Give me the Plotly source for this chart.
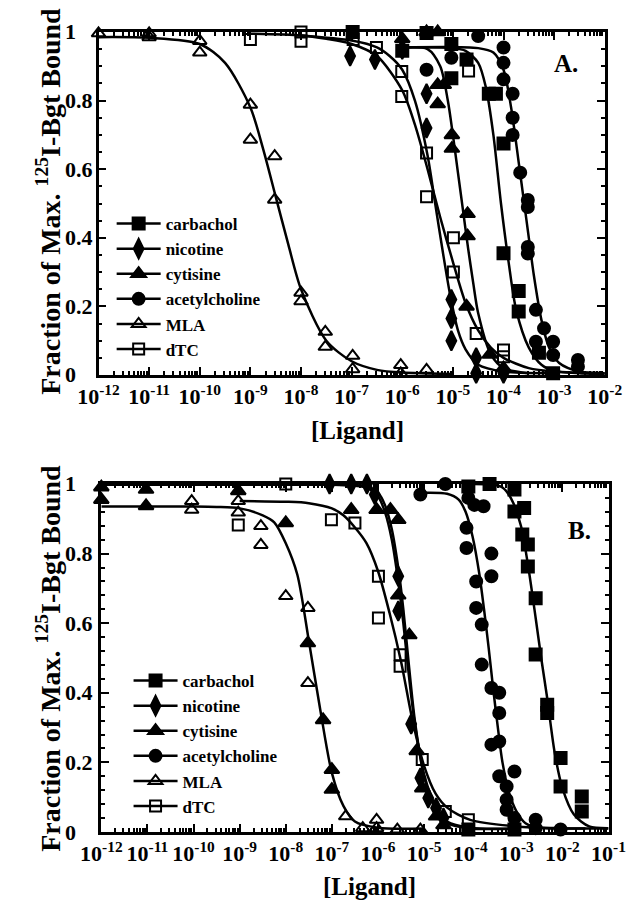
import plotly.graph_objects as go

FONT = "Liberation Serif"
NAMES = ["carbachol", "nicotine", "cytisine", "acetylcholine", "MLA", "dTC"]

# ---------------- Panel A : measured points (log10 [Ligand], fraction) ----------------
A_carb_x = [-6.98, -6.0, -5.52, -5.03, -5.03, -4.73, -4.29, -4.15, -4.0, -4.0, -3.7, -3.7, -3.3, -3.02, -2.0]
A_carb_y = [1.0, 0.945, 0.997, 0.965, 0.865, 0.92, 0.82, 0.82, 0.675, 0.355, 0.245, 0.185, 0.065, 0.005, 0.005]
A_nic_x = [-7.03, -6.54, -6.0, -5.52, -5.52, -5.03, -5.03, -5.03, -4.54, -4.54, -4.0]
A_nic_y = [0.93, 0.92, 0.95, 0.82, 0.72, 0.22, 0.165, 0.10, 0.05, 0.005, 0.005]
A_cyt_x = [-6.0, -5.52, -5.3, -5.3, -5.18, -5.3, -5.02, -5.02, -4.71, -4.71, -4.73, -4.27, -4.0]
A_cyt_y = [0.98, 1.0, 1.0, 0.846, 0.846, 0.79, 0.70, 0.66, 0.47, 0.405, 0.20, 0.06, 0.02]
A_ach_x = [-6.03, -5.52, -5.03, -4.5, -4.0, -4.0, -4.0, -3.82, -3.82, -3.82, -3.67, -3.52, -3.52, -3.52, -3.52,
           -3.36, -3.2, -3.36, -3.02, -3.02, -2.53, -2.53, -2.0, -2.0]
A_ach_y = [1.02, 0.89, 0.925, 0.988, 0.955, 0.91, 0.862, 0.82, 0.75, 0.70, 0.59, 0.51, 0.49, 0.373, 0.354,
           0.19, 0.136, 0.097, 0.097, 0.058, 0.044, 0.024, 0.039, 0.019]
A_mla_x = [-12.0, -11.0, -11.0, -10.0, -10.0, -9.0, -9.0, -8.52, -8.52, -8.0, -8.0, -7.52, -7.52, -6.98, -6.98,
           -6.03, -6.03, -5.52]
A_mla_y = [0.996, 0.996, 0.985, 0.974, 0.94, 0.788, 0.686, 0.638, 0.511, 0.24, 0.215, 0.126, 0.082, 0.056, 0.017,
           0.029, 0.005, 0.015]
A_dtc_x = [-9.0, -8.0, -8.0, -6.97, -6.51, -6.01, -6.01, -5.52, -5.52, -4.99, -4.99, -4.69, -4.54, -4.0, -4.0, -2.0]
A_dtc_y = [0.978, 1.0, 0.973, 0.978, 0.955, 0.885, 0.812, 0.647, 0.52, 0.40, 0.30, 0.886, 0.121, 0.073, 0.053, 0.005]

# ---------------- Panel A : fitted curves ----------------
A_carb_cx = [-6.0, -5.0, -4.75, -4.5, -4.35, -4.2, -4.05, -3.9, -3.75, -3.5, -3.25, -3.0, -2.5, -2.0]
A_carb_cy = [0.955, 0.953, 0.945, 0.91, 0.84, 0.70, 0.50, 0.33, 0.19, 0.08, 0.03, 0.012, 0.005, 0.003]
A_nic_cx = [-8.0, -7.0, -6.5, -6.25, -6.0, -5.75, -5.5, -5.35, -5.2, -5.05, -4.9, -4.75, -4.5, -4.0, -3.0]
A_nic_cy = [0.99, 0.975, 0.955, 0.93, 0.89, 0.80, 0.64, 0.50, 0.36, 0.23, 0.13, 0.075, 0.03, 0.01, 0.005]
A_cyt_cx = [-6.0, -5.5, -5.25, -5.1, -5.0, -4.9, -4.8, -4.7, -4.6, -4.5, -4.25, -4.0, -3.5]
A_cyt_cy = [0.955, 0.95, 0.90, 0.80, 0.70, 0.59, 0.48, 0.37, 0.27, 0.18, 0.06, 0.02, 0.005]
A_ach_cx = [-6.0, -4.5, -4.2, -4.0, -3.85, -3.7, -3.6, -3.5, -3.4, -3.25, -3.1, -2.9, -2.5, -2.0]
A_ach_cy = [0.955, 0.953, 0.94, 0.89, 0.78, 0.62, 0.51, 0.40, 0.29, 0.16, 0.08, 0.035, 0.01, 0.005]
A_mla_cx = [-12.0, -11.0, -10.0, -9.5, -9.0, -8.75, -8.5, -8.25, -8.0, -7.5, -7.0, -6.5, -6.0, -5.0]
A_mla_cy = [0.985, 0.983, 0.965, 0.91, 0.78, 0.66, 0.52, 0.38, 0.25, 0.10, 0.04, 0.015, 0.007, 0.003]
A_dtc_cx = [-9.0, -8.0, -7.5, -7.0, -6.5, -6.0, -5.75, -5.5, -5.25, -5.0, -4.75, -4.5, -4.25, -4.0, -3.5, -3.0, -2.0]
A_dtc_cy = [0.995, 0.99, 0.98, 0.965, 0.93, 0.83, 0.73, 0.60, 0.46, 0.33, 0.21, 0.13, 0.08, 0.05, 0.02, 0.01, 0.005]

# ---------------- Panel B : measured points ----------------
B_carb_x = [-4.04, -4.04, -3.58, -3.04, -3.04, -3.04, -2.83, -2.87, -2.75, -2.75, -2.58, -2.58, -2.33, -2.33,
            -2.04, -2.04, -1.58, -1.58, -1.0, -1.0]
B_carb_y = [0.993, 0.007, 1.0, 0.984, 0.921, 0.007, 0.931, 0.855, 0.826, 0.763, 0.672, 0.51, 0.366, 0.342,
            0.213, 0.131, 0.102, 0.059, 0.04, 0.007]
B_nic_x = [-7.05, -6.58, -6.24, -6.07, -5.56, -5.56, -5.28, -5.08, -4.91, -4.74, -4.58]
B_nic_y = [1.0, 1.0, 1.0, 0.97, 0.735, 0.635, 0.31, 0.155, 0.098, 0.069, 0.04]
B_cyt_x = [-12.0, -12.0, -11.03, -11.03, -9.03, -8.0, -7.52, -7.19, -7.0, -7.0, -6.58, -6.03, -5.73, -5.56,
           -5.56, -5.32, -5.16, -5.04, -4.74, -4.58]
B_cyt_y = [0.991, 0.955, 0.984, 0.937, 0.98, 0.888, 0.543, 0.322, 0.179, 0.122, 0.926, 0.926, 0.926, 0.897,
           0.68, 0.566, 0.233, 0.126, 0.045, 0.02]
B_ach_x = [-5.08, -4.54, -4.04, -4.08, -4.08, -3.91, -3.71, -3.87, -3.87, -3.75, -3.75, -3.54, -3.54, -3.54,
           -3.54, -3.37, -3.37, -3.37, -3.37, -3.21, -3.21, -3.21, -3.04, -3.04, -2.58, -2.58, -2.04, -1.0]
B_ach_y = [0.97, 1.0, 0.96, 0.874, 0.816, 0.94, 0.936, 0.72, 0.644, 0.596, 0.481, 0.80, 0.735, 0.414,
           0.251, 0.40, 0.342, 0.26, 0.16, 0.131, 0.093, 0.064, 0.174, 0.04, 0.035, 0.011, 0.007, 0.05]
B_mla_x = [-10.04, -10.04, -9.03, -9.03, -8.54, -8.54, -8.0, -7.52, -7.52, -6.7, -6.33, -6.03, -6.03, -5.58, -5.08]
B_mla_y = [0.951, 0.926, 0.951, 0.918, 0.879, 0.825, 0.678, 0.644, 0.428, 0.045, 0.011, 0.035, 0.011, 0.007, 0.007]
B_dtc_x = [-9.03, -8.0, -7.01, -6.5, -5.99, -5.99, -5.52, -5.52, -5.04, -4.54, -4.04]
B_dtc_y = [0.882, 1.0, 0.897, 0.888, 0.735, 0.615, 0.509, 0.476, 0.208, 0.059, 0.035]

# ---------------- Panel B : fitted curves ----------------
B_carb_cx = [-4.0, -3.5, -3.3, -3.12, -2.9, -2.75, -2.58, -2.46, -2.33, -2.17, -2.0, -1.75, -1.42, -1.0]
B_carb_cy = [1.0, 0.998, 0.99, 0.96, 0.88, 0.77, 0.615, 0.50, 0.385, 0.23, 0.126, 0.05, 0.016, 0.011]
B_nic_cx = [-12.0, -7.0, -6.5, -6.25, -6.0, -5.85, -5.7, -5.55, -5.45, -5.33, -5.2, -5.0, -4.75, -4.5, -4.0, -3.0]
B_nic_cy = [0.998, 0.998, 0.995, 0.99, 0.965, 0.92, 0.84, 0.71, 0.60, 0.45, 0.31, 0.165, 0.075, 0.03, 0.012, 0.01]
B_cyt_cx = [-12.0, -7.0, -6.5, -6.25, -6.0, -5.85, -5.7, -5.55, -5.45, -5.33, -5.2, -5.0, -4.75, -4.5, -4.0, -3.0]
B_cyt_cy = [0.998, 0.998, 0.997, 0.993, 0.975, 0.94, 0.87, 0.75, 0.64, 0.48, 0.32, 0.16, 0.065, 0.025, 0.01, 0.01]
B_ach_cx = [-5.0, -4.5, -4.25, -4.1, -3.95, -3.8, -3.7, -3.6, -3.5, -3.4, -3.3, -3.15, -3.0, -2.8, -2.5, -2.0, -1.5]
B_ach_cy = [0.975, 0.972, 0.955, 0.92, 0.85, 0.74, 0.64, 0.53, 0.41, 0.30, 0.20, 0.11, 0.06, 0.025, 0.012, 0.01, 0.01]
B_mla_cx = [-12.0, -10.0, -9.5, -9.0, -8.5, -8.25, -8.0, -7.75, -7.5, -7.25, -7.0, -6.75, -6.5, -6.0, -5.0]
B_mla_cy = [0.935, 0.935, 0.934, 0.93, 0.91, 0.89, 0.83, 0.74, 0.55, 0.35, 0.17, 0.075, 0.03, 0.012, 0.01]
B_dtc_cx = [-9.0, -8.0, -7.5, -7.0, -6.75, -6.5, -6.25, -6.0, -5.75, -5.5, -5.25, -5.0, -4.75, -4.5, -4.0, -3.0, -2.0, -1.0]
B_dtc_cy = [0.951, 0.949, 0.945, 0.93, 0.91, 0.875, 0.83, 0.75, 0.63, 0.49, 0.32, 0.19, 0.11, 0.07, 0.035, 0.016, 0.011, 0.01]

# ---------------- axis tick labels ----------------
A_decades = list(range(-12, -1))
B_decades = list(range(-12, 0))
Y_ticks = [0, 0.2, 0.4, 0.6, 0.8, 1]
Y_ticktext = ["0", "0.2", "0.4", "0.6", "0.8", "1"]

A_points = {"carbachol": (A_carb_x, A_carb_y), "nicotine": (A_nic_x, A_nic_y), "cytisine": (A_cyt_x, A_cyt_y),
            "acetylcholine": (A_ach_x, A_ach_y), "MLA": (A_mla_x, A_mla_y), "dTC": (A_dtc_x, A_dtc_y)}
A_curves = {"carbachol": (A_carb_cx, A_carb_cy), "nicotine": (A_nic_cx, A_nic_cy), "cytisine": (A_cyt_cx, A_cyt_cy),
            "acetylcholine": (A_ach_cx, A_ach_cy), "MLA": (A_mla_cx, A_mla_cy), "dTC": (A_dtc_cx, A_dtc_cy)}
B_points = {"carbachol": (B_carb_x, B_carb_y), "nicotine": (B_nic_x, B_nic_y), "cytisine": (B_cyt_x, B_cyt_y),
            "acetylcholine": (B_ach_x, B_ach_y), "MLA": (B_mla_x, B_mla_y), "dTC": (B_dtc_x, B_dtc_y)}
B_curves = {"carbachol": (B_carb_cx, B_carb_cy), "nicotine": (B_nic_cx, B_nic_cy), "cytisine": (B_cyt_cx, B_cyt_cy),
            "acetylcholine": (B_ach_cx, B_ach_cy), "MLA": (B_mla_cx, B_mla_cy), "dTC": (B_dtc_cx, B_dtc_cy)}

MARK = {
    "carbachol": dict(symbol="square", size=12),
    "nicotine": dict(symbol="diamond-tall", size=14),
    "cytisine": dict(symbol="triangle-up", size=13),
    "acetylcholine": dict(symbol="circle", size=12),
    "MLA": dict(symbol="triangle-up-open", size=12),
    "dTC": dict(symbol="square-open", size=11),
}

W, H = 642, 900
fig = go.Figure()


def marker(name):
    m = MARK[name]
    return dict(symbol=m["symbol"], size=m["size"], color="black", line=dict(color="black", width=2))


def add_panel(points, curves, xa, ya, legend):
    for name in NAMES:
        cx, cy = curves[name]
        fig.add_trace(go.Scatter(x=[10 ** v for v in cx], y=cy, mode="lines",
                                 line=dict(color="black", width=2.5, shape="spline", smoothing=0.8),
                                 xaxis=xa, yaxis=ya, showlegend=False, hoverinfo="skip"))
    for name in NAMES:
        px_, py_ = points[name]
        fig.add_trace(go.Scatter(x=[10 ** v for v in px_], y=py_, mode="markers", marker=marker(name),
                                 xaxis=xa, yaxis=ya, showlegend=False, cliponaxis=False, name=name))
    for name in NAMES:
        fig.add_trace(go.Scatter(x=[None], y=[None], mode="lines+markers", name=name,
                                 line=dict(color="black", width=2.5), marker=marker(name),
                                 xaxis=xa, yaxis=ya, legend=legend, showlegend=True))


add_panel(A_points, A_curves, "x", "y", "legend")
add_panel(B_points, B_curves, "x2", "y2", "legend2")

# geometry (pixels)
A_box = (74, 613, 24, 367)
B_box = (77, 617, 476, 824)


def dom(box):
    x0, x1, y0, y1 = box
    return [x0 / W, x1 / W], [1 - y1 / H, 1 - y0 / H]


def xaxis_cfg(box, decades, yref):
    d, _ = dom(box)
    minor_vals = [m * 10.0 ** e for e in decades[:-1] for m in range(2, 10)]
    return dict(type="log", range=[decades[0], decades[-1]], domain=d, anchor=yref,
                showline=True, linewidth=2.5, linecolor="black", mirror="allticks",
                ticks="inside", ticklen=8, tickwidth=2, tickcolor="black",
                tickmode="array", tickvals=[10.0 ** e for e in decades],
                ticktext=["<b>10<sup>%d</sup></b>" % e for e in decades],
                tickfont=dict(family=FONT, size=22, color="black"), ticklabelstandoff=0,
                minor=dict(ticks="inside", ticklen=4, tickwidth=1.5, tickcolor="black",
                           tickmode="array", tickvals=minor_vals),
                showgrid=False, zeroline=False)


def yaxis_cfg(box, xref, mdt):
    _, d = dom(box)
    return dict(range=[0, 1], domain=d, anchor=xref,
                showline=True, linewidth=2.5, linecolor="black", mirror="allticks",
                ticks="inside", ticklen=8, tickwidth=2, tickcolor="black",
                tickmode="array", tickvals=Y_ticks, showticklabels=False,
                minor=dict(ticks="inside", ticklen=4, tickwidth=1.5, tickcolor="black", dtick=mdt, tick0=0),
                showgrid=False, zeroline=False)


ann = []
for box, yref, label, lx, ly, ttl_y, lig_x, lig_y in [
        (A_box, "y", "A.", 572, 56, 193, 350, 422),
        (B_box, "y2", "B.", 586, 522, 650, 363, 878)]:
    for v, t in zip(Y_ticks, Y_ticktext):
        ann.append(dict(text="<b>%s</b>" % t, xref="paper", x=36 / W, xanchor="left",
                        yref=yref, y=v, yanchor="middle", showarrow=False,
                        font=dict(family=FONT, size=22, color="black")))
    ann.append(dict(text="<b>%s</b>" % label, xref="paper", yref="paper", x=lx / W, y=1 - ly / H,
                    xanchor="center", yanchor="middle", showarrow=False,
                    font=dict(family=FONT, size=25, color="black")))
    ann.append(dict(text="<b>Fraction of Max. <sup>125</sup>I-Bgt Bound</b>", xref="paper", yref="paper",
                    x=20 / W, y=1 - ttl_y / H, textangle=-90, xanchor="center", yanchor="middle",
                    showarrow=False, font=dict(family=FONT, size=28, color="black")))
    ann.append(dict(text="<b>[Ligand]</b>", xref="paper", yref="paper", x=lig_x / W, y=1 - lig_y / H,
                    xanchor="center", yanchor="middle", showarrow=False,
                    font=dict(family=FONT, size=25, color="black")))

leg_common = dict(font=dict(family=FONT, size=17, color="black", weight="bold"), bgcolor="rgba(0,0,0,0)",
                  borderwidth=0, itemwidth=44, tracegroupgap=0, xanchor="left", yanchor="top",
                  itemclick=False, itemdoubleclick=False)

fig.update_layout(
    width=W, height=H, margin=dict(l=0, r=0, t=0, b=0),
    paper_bgcolor="white", plot_bgcolor="white", showlegend=True,
    xaxis=xaxis_cfg(A_box, A_decades, "y"),
    yaxis=yaxis_cfg(A_box, "x", 0.05),
    xaxis2=xaxis_cfg(B_box, B_decades, "y2"),
    yaxis2=yaxis_cfg(B_box, "x2", 0.04),
    legend=dict(x=88 / W, y=1 - 198 / H, **leg_common),
    legend2=dict(x=106 / W, y=1 - 655 / H, **leg_common),
    annotations=ann,
)

fig.write_html("out.html")
